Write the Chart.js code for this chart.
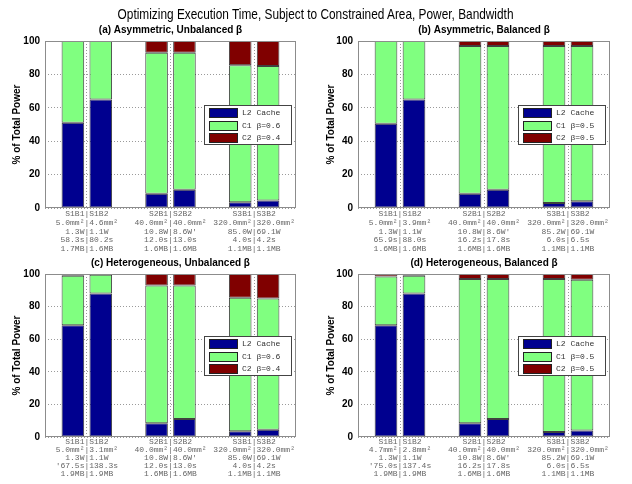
<!DOCTYPE html>
<html>
<head>
<meta charset="utf-8">
<script src="https://cdn.jsdelivr.net/npm/chart.js@4.4.0/dist/chart.umd.min.js"></script>
<style>
  body { margin: 0; background: #fff; width: 632px; height: 484px; position: relative; overflow: hidden; }
  #mainTitle { position: absolute; left: 0; top: 5px; width: 632px; text-align: center;
               font: 15px "Liberation Sans", Arial, sans-serif; line-height: 18px; color: #000; }
  #mainTitle span { display: inline-block; transform: scaleX(0.79); transform-origin: center; white-space: nowrap; }
  canvas { position: absolute; }
</style>
</head>
<body>
<canvas id="chartA" width="316" height="258" style="left:0;top:0"></canvas>
<canvas id="chartB" width="316" height="258" style="left:316px;top:0"></canvas>
<canvas id="chartC" width="316" height="226" style="left:0;top:258px"></canvas>
<canvas id="chartD" width="316" height="226" style="left:316px;top:258px"></canvas>
<div id="mainTitle"><span>Optimizing Execution Time, Subject to Constrained Area, Power, Bandwidth</span></div>
<script>
// bars sit in pairs, with an empty slot between the pairs
const barSlots = [1, 2, 4, 5, 7, 8];
const groupSlots = [1.5, 4.5, 7.5];

const panelTitles = [
  '(a) Asymmetric, Unbalanced \u03b2',
  '(b) Asymmetric, Balanced \u03b2',
  '(c) Heterogeneous, Unbalanced \u03b2',
  '(d) Heterogeneous, Balanced \u03b2'
];

const l2Label = 'L2 Cache';
const c1Unbalanced = 'C1 \u03b2=0.6';
const c2Unbalanced = 'C2 \u03b2=0.4';
const c1Balanced = 'C1 \u03b2=0.5';
const c2Balanced = 'C2 \u03b2=0.5';

// % of total power, per bar: S1B1, S1B2, S2B1, S2B2, S3B1, S3B2
const l2A = [51, 65, 8.5, 11, 3.5, 4.5];
const c1A = [49, 35, 84.5, 82, 82, 80.5];
const c2A = [0, 0, 7, 7, 14.5, 15];

const l2B = [50.5, 65, 8.5, 11, 3, 4];
const c1B = [49.5, 35, 88.5, 86, 94, 93];
const c2B = [0, 0, 3, 3, 3, 3];

const l2C = [68.5, 88, 8.5, 11, 3.5, 4.5];
const c1C = [30.5, 11.5, 84.5, 82, 82, 80.5];
const c2C = [1, 0.5, 7, 7, 14.5, 15];

const l2D = [68.5, 88, 8.5, 11, 3, 4];
const c1D = [30, 11, 88.5, 86, 94, 92.5];
const c2D = [1.5, 1, 3, 3, 3, 3.5];

// tick label lines under each pair of bars
const ticksA = [
  ['S1B1|S1B2', '5.0mm\u00b2|4.6mm\u00b2', '1.3W|1.1W', '58.3s|80.2s', '1.7MB|1.6MB'],
  ['S2B1|S2B2', '40.0mm\u00b2|40.0mm\u00b2', "10.8W|8.6W'", '12.0s|13.0s', '1.6MB|1.6MB'],
  ['S3B1|S3B2', '320.0mm\u00b2|320.0mm\u00b2', '85.0W|69.1W', '4.0s|4.2s', '1.1MB|1.1MB']
];
const ticksB = [
  ['S1B1|S1B2', '5.0mm\u00b2|3.9mm\u00b2', '1.3W|1.1W', '65.9s|88.0s', '1.6MB|1.6MB'],
  ['S2B1|S2B2', '40.0mm\u00b2|40.0mm\u00b2', "10.8W|8.6W'", '16.2s|17.8s', '1.6MB|1.6MB'],
  ['S3B1|S3B2', '320.0mm\u00b2|320.0mm\u00b2', '85.2W|69.1W', '6.0s|6.5s', '1.1MB|1.1MB']
];
const ticksC = [
  ['S1B1|S1B2', '5.0mm\u00b2|3.1mm\u00b2', '1.3W|1.1W', "'67.5s|138.3s", '1.9MB|1.9MB'],
  ['S2B1|S2B2', '40.0mm\u00b2|40.0mm\u00b2', "10.8W|8.6W'", '12.0s|13.0s', '1.6MB|1.6MB'],
  ['S3B1|S3B2', '320.0mm\u00b2|320.0mm\u00b2', '85.0W|69.1W', '4.0s|4.2s', '1.1MB|1.1MB']
];
const ticksD = [
  ['S1B1|S1B2', '4.7mm\u00b2|2.8mm\u00b2', '1.3W|1.1W', "'75.0s|137.4s", '1.9MB|1.9MB'],
  ['S2B1|S2B2', '40.0mm\u00b2|40.0mm\u00b2', "10.8W|8.6W'", '16.2s|17.8s', '1.6MB|1.6MB'],
  ['S3B1|S3B2', '320.0mm\u00b2|320.0mm\u00b2', '85.2W|69.1W', '6.0s|6.5s', '1.1MB|1.1MB']
];

const L2_COLOR = '#00008f';
const C1_COLOR = '#80ff80';
const C2_COLOR = '#800000';
const SANS = '"Liberation Sans", Arial, sans-serif';
const MONO = '"Liberation Mono", "Courier New", monospace';

// draws the axes box, the panel title and the legend inside the plot
const boxLegendPlugin = {
  id: 'boxLegend',
  afterDatasetsDraw: function(chart, args, options) {
    const ctx = chart.ctx;
    const a = chart.chartArea;
    ctx.save();
    ctx.strokeStyle = '#8c8c8c';
    ctx.lineWidth = 1;
    ctx.strokeRect(a.left + 0.5, a.top + 0.5, a.right - a.left - 1, a.bottom - a.top - 1);

    // panel title
    ctx.fillStyle = '#000';
    ctx.font = 'bold 10px ' + SANS;
    ctx.textAlign = 'center';
    ctx.textBaseline = 'middle';
    ctx.fillText(options.title, (a.left + a.right) / 2, a.top - 11);

    // legend
    const w = 88, h = 40;
    const x = Math.round(a.right - 4 - w);
    const y = Math.round(chart.scales.y.getPixelForValue(50) - h / 2);
    ctx.fillStyle = '#fff';
    ctx.fillRect(x, y, w, h);
    ctx.strokeStyle = '#444';
    ctx.strokeRect(x + 0.5, y + 0.5, w - 1, h - 1);
    ctx.font = '8px ' + MONO;
    ctx.textAlign = 'left';
    chart.data.datasets.forEach(function(ds, i) {
      const rowY = y + 8 + i * 12.5;
      ctx.fillStyle = ds.backgroundColor;
      ctx.fillRect(x + 5, Math.round(rowY - 5), 29, 10);
      ctx.strokeStyle = '#222';
      ctx.strokeRect(x + 5.5, Math.round(rowY - 5) + 0.5, 28, 9);
      ctx.fillStyle = '#333';
      ctx.fillText(ds.label, x + 38, rowY);
    });
    ctx.restore();
  }
};

function toPoints(values) {
  return barSlots.map(function(slot, i) { return { x: slot, y: values[i] }; });
}

function makeDataset(label, values, color) {
  return {
    label: label,
    data: toPoints(values),
    backgroundColor: color,
    borderColor: 'rgba(0, 0, 0, 0.75)',
    borderWidth: 1,
    borderSkipped: false,
    barPercentage: 0.81,
    categoryPercentage: 1.0
  };
}

function makeChart(id, p) {
  const ctx = document.getElementById(id);
  return new Chart(ctx, {
    type: 'bar',
    data: {
      datasets: [
        makeDataset(l2Label, p.l2, L2_COLOR),
        makeDataset(p.c1Label, p.c1, C1_COLOR),
        makeDataset(p.c2Label, p.c2, C2_COLOR)
      ]
    },
    plugins: [boxLegendPlugin],
    options: {
      responsive: false,
      animation: false,
      layout: {
        padding: { left: 0, right: p.padRight, top: p.padTop, bottom: 0 }
      },
      scales: {
        x: {
          type: 'linear',
          stacked: true,
          min: 0,
          max: 9,
          offset: false,
          afterBuildTicks: function(scale) {
            scale.ticks = groupSlots.map(function(v) { return { value: v }; });
          },
          afterFit: function(scale) { scale.height = p.xHeight; },
          grid: { color: '#9a9a9a', drawTicks: false, offset: false },
          border: { display: false, dash: [1, 2] },
          ticks: {
            autoSkip: false,
            maxRotation: 0,
            padding: 1,
            color: '#666',
            font: { family: MONO, size: 8, lineHeight: p.tickLine },
            callback: function(value, index) { return p.ticks[index]; }
          }
        },
        y: {
          stacked: true,
          min: 0,
          max: 100,
          afterFit: function(scale) { scale.width = p.yWidth; },
          grid: { color: '#9a9a9a', drawTicks: false },
          border: { display: false, dash: [1, 2] },
          ticks: {
            stepSize: 20,
            padding: 5,
            color: '#000',
            font: { family: SANS, size: 10, weight: 'bold' }
          },
          title: {
            display: true,
            text: '% of Total Power',
            color: '#000',
            padding: { top: p.yTitlePad, bottom: 0 },
            font: { family: SANS, size: 10, weight: 'bold' }
          }
        }
      },
      plugins: {
        legend: { display: false },
        tooltip: { enabled: false },
        boxLegend: { title: p.title }
      }
    }
  });
}

makeChart('chartA', {
  title: panelTitles[0], l2: l2A, c1: c1A, c2: c2A, c1Label: c1Unbalanced, c2Label: c2Unbalanced,
  ticks: ticksA, padTop: 41, padRight: 20, xHeight: 50, yWidth: 45, yTitlePad: 11, tickLine: 1.12
});
makeChart('chartB', {
  title: panelTitles[1], l2: l2B, c1: c1B, c2: c2B, c1Label: c1Balanced, c2Label: c2Balanced,
  ticks: ticksB, padTop: 41, padRight: 22, xHeight: 50, yWidth: 42, yTitlePad: 9, tickLine: 1.12
});
makeChart('chartC', {
  title: panelTitles[2], l2: l2C, c1: c1C, c2: c2C, c1Label: c1Unbalanced, c2Label: c2Unbalanced,
  ticks: ticksC, padTop: 16, padRight: 20, xHeight: 47, yWidth: 45, yTitlePad: 11, tickLine: 1.0
});
makeChart('chartD', {
  title: panelTitles[3], l2: l2D, c1: c1D, c2: c2D, c1Label: c1Balanced, c2Label: c2Balanced,
  ticks: ticksD, padTop: 16, padRight: 22, xHeight: 47, yWidth: 42, yTitlePad: 9, tickLine: 1.0
});
</script>
</body>
</html>
